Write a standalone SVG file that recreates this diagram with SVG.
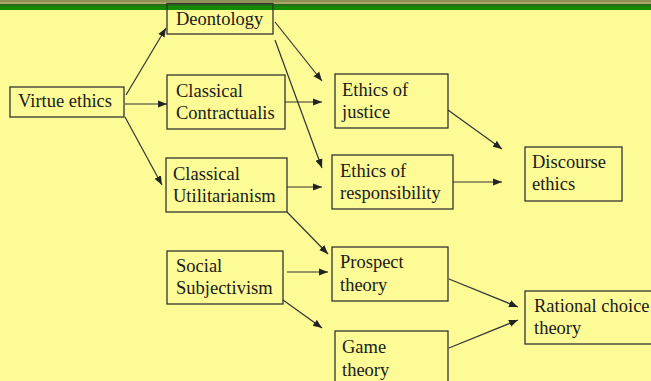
<svg xmlns="http://www.w3.org/2000/svg" width="651" height="381" viewBox="0 0 651 381">
<defs>
<marker id="ah" viewBox="0 0 10 10" refX="10" refY="5" markerWidth="9" markerHeight="9" markerUnits="userSpaceOnUse" orient="auto">
<path d="M0,1 L10,5 L0,9 Z" fill="#222"/>
</marker>
</defs>
<style>
.box{fill:none;stroke:#333;stroke-width:1.3}
.t{font-family:"Liberation Serif","Times New Roman",serif;font-size:18.5px;fill:#1a1a1a}
.c line{stroke:#333;stroke-width:1.2;marker-end:url(#ah)}
</style>
<rect x="0" y="0" width="651" height="381" fill="#fdfb96"/>
<rect x="0" y="0" width="651" height="2" fill="#8f8f58"/>
<rect x="0" y="2" width="651" height="2" fill="#a8a868"/>
<rect x="0" y="4" width="651" height="2" fill="#2a6a18"/>
<rect x="0" y="6" width="651" height="4" fill="#138a00"/>
<g id="deontology"><rect class="box" x="167" y="3.5" width="106" height="30.5"/><text class="t" x="176" y="25">Deontology</text></g>
<g id="virtue"><rect class="box" x="10" y="87" width="114" height="30"/><text class="t" x="18" y="107">Virtue ethics</text></g>
<g id="contract"><rect class="box" x="167" y="75" width="118" height="54"/><text class="t" x="176" y="97">Classical</text><text class="t" x="176" y="119">Contractualis</text></g>
<g id="util"><rect class="box" x="166" y="158" width="121" height="54"/><text class="t" x="173" y="180">Classical</text><text class="t" x="173" y="202">Utilitarianism</text></g>
<g id="justice"><rect class="box" x="335" y="74" width="113" height="54"/><text class="t" x="342" y="96">Ethics of</text><text class="t" x="342" y="118">justice</text></g>
<g id="responsibility"><rect class="box" x="332" y="155" width="121" height="54"/><text class="t" x="340" y="177">Ethics of</text><text class="t" x="340" y="199">responsibility</text></g>
<g id="discourse"><rect class="box" x="525" y="147" width="97" height="54"/><text class="t" x="532" y="168">Discourse</text><text class="t" x="532" y="190">ethics</text></g>
<g id="social"><rect class="box" x="167" y="251" width="116" height="53"/><text class="t" x="176" y="272">Social</text><text class="t" x="176" y="294">Subjectivism</text></g>
<g id="prospect"><rect class="box" x="332" y="247" width="116" height="54"/><text class="t" x="340" y="268">Prospect</text><text class="t" x="340" y="291">theory</text></g>
<g id="game"><rect class="box" x="335" y="331" width="113" height="60"/><text class="t" x="342" y="353">Game</text><text class="t" x="342" y="376">theory</text></g>
<g id="rational"><rect class="box" x="525" y="291" width="140" height="53"/><text class="t" x="534" y="312">Rational choice</text><text class="t" x="534" y="334">theory</text></g>
<g id="connectors" class="c">
<line x1="126" y1="95" x2="166" y2="28"/>
<line x1="125" y1="104" x2="167" y2="104"/>
<line x1="125" y1="117" x2="162" y2="185"/>
<line x1="275" y1="22" x2="322" y2="81"/>
<line x1="275" y1="40" x2="322" y2="168"/>
<line x1="285" y1="102" x2="322" y2="102"/>
<line x1="287" y1="187" x2="322" y2="187"/>
<line x1="287" y1="212" x2="328" y2="254"/>
<line x1="287" y1="272" x2="328" y2="272"/>
<line x1="283" y1="300" x2="322" y2="328"/>
<line x1="448" y1="110" x2="502" y2="149"/>
<line x1="453" y1="182" x2="502" y2="182"/>
<line x1="449" y1="279" x2="518" y2="307"/>
<line x1="449" y1="348" x2="518" y2="320"/>
</g>
</svg>
